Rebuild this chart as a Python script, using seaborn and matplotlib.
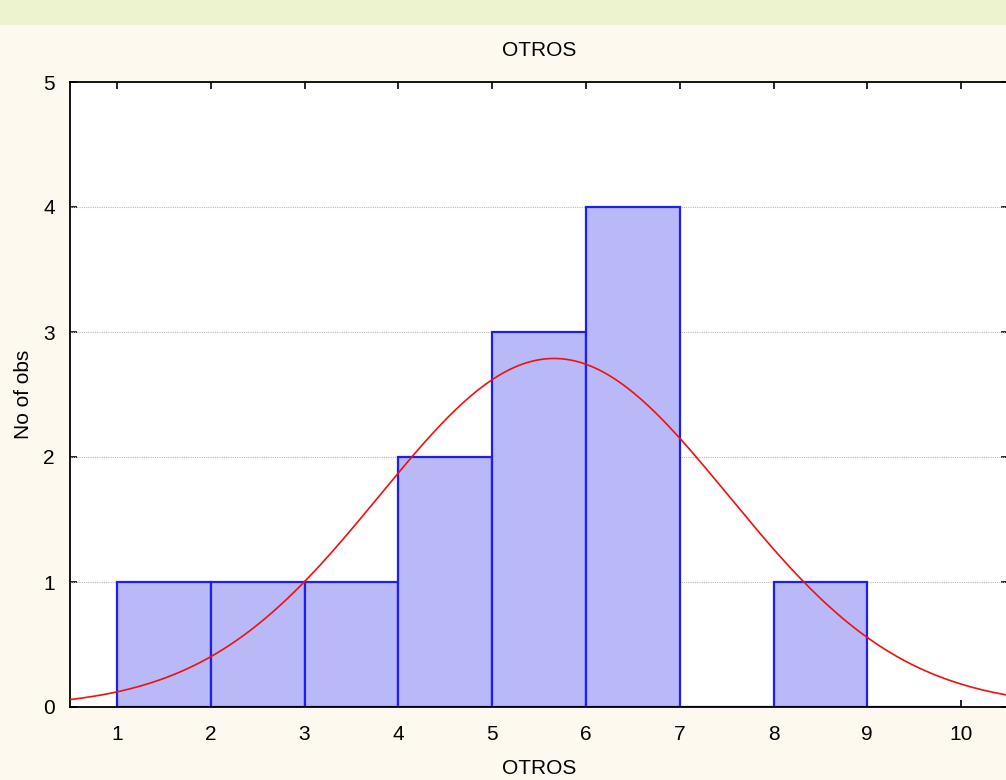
import numpy as np
import pandas as pd
import seaborn as sns
import matplotlib as mpl
import matplotlib.pyplot as plt
from matplotlib.patches import Rectangle

mpl.use('Agg')

# histogram data (bin edges and counts)
bin_edges = [1, 2, 3, 4, 5, 6, 7, 8, 9, 10]
counts = [1, 1, 1, 2, 3, 4, 0, 1, 0]
# fitted normal curve parameters
fit_mean = 5.66
fit_sd = 1.86
n_obs = 13
xticks = [1, 2, 3, 4, 5, 6, 7, 8, 9, 10]
yticks = [0, 1, 2, 3, 4, 5]

sns.set_theme(style="white")
plt.rcParams['font.family'] = ['Liberation Sans', 'DejaVu Sans']
plt.rcParams['text.color'] = 'black'
plt.rcParams['axes.labelcolor'] = 'black'
plt.rcParams['xtick.color'] = 'black'
plt.rcParams['ytick.color'] = 'black'

fs = 15

fig = plt.figure(figsize=(10.06, 7.8), dpi=100)
fig.patch.set_facecolor('#FEF9EE')
# decorative strip at the top
fig.patches.append(Rectangle((0, 1 - 25 / 780), 1, 25 / 780, transform=fig.transFigure,
                             facecolor='#EEF3CF', edgecolor='none', zorder=0))

ax = fig.add_axes([70 / 1006, 73 / 780, 938 / 1006, 625 / 780])
ax.set_facecolor('white')

df = pd.DataFrame({'left': bin_edges[:-1], 'count': counts})
sns.histplot(data=df, x='left', weights='count', bins=bin_edges, ax=ax,
             color='#B9B9F7', alpha=1, edgecolor='#1E1EF0', linewidth=1.6, zorder=2)

xs = np.linspace(0.5, 10.5, 400)
ys = n_obs * 1.0 / (fit_sd * np.sqrt(2 * np.pi)) * np.exp(-0.5 * ((xs - fit_mean) / fit_sd) ** 2)
ax.plot(xs, ys, color='#F01010', linewidth=1.2, zorder=3)

ax.set_xlim(0.5, 10.5)
ax.set_ylim(0, 5)
ax.set_xticks(xticks)
ax.set_yticks(yticks)
for y in yticks[1:-1]:
    ax.axhline(y, color='#BBBBBB', linestyle=(0, (1, 1)), linewidth=0.8, zorder=1)

ax.tick_params(axis='both', which='both', direction='in', length=5, width=1.2,
               color='black', labelcolor='black', labelsize=fs,
               top=True, right=True, bottom=True, left=True)
ax.tick_params(axis='x', pad=13)
ax.tick_params(axis='y', pad=11)
for s in ax.spines.values():
    s.set_color('black')
    s.set_linewidth(1.3)
ax.spines['right'].set_visible(False)

ax.set_title('OTROS', fontsize=fs, pad=19, color='black')
ax.set_xlabel('OTROS', fontsize=fs, labelpad=11)
ax.set_ylabel('No of obs', fontsize=fs, labelpad=7)

fig.savefig('out.png', dpi=100, facecolor=fig.get_facecolor())
